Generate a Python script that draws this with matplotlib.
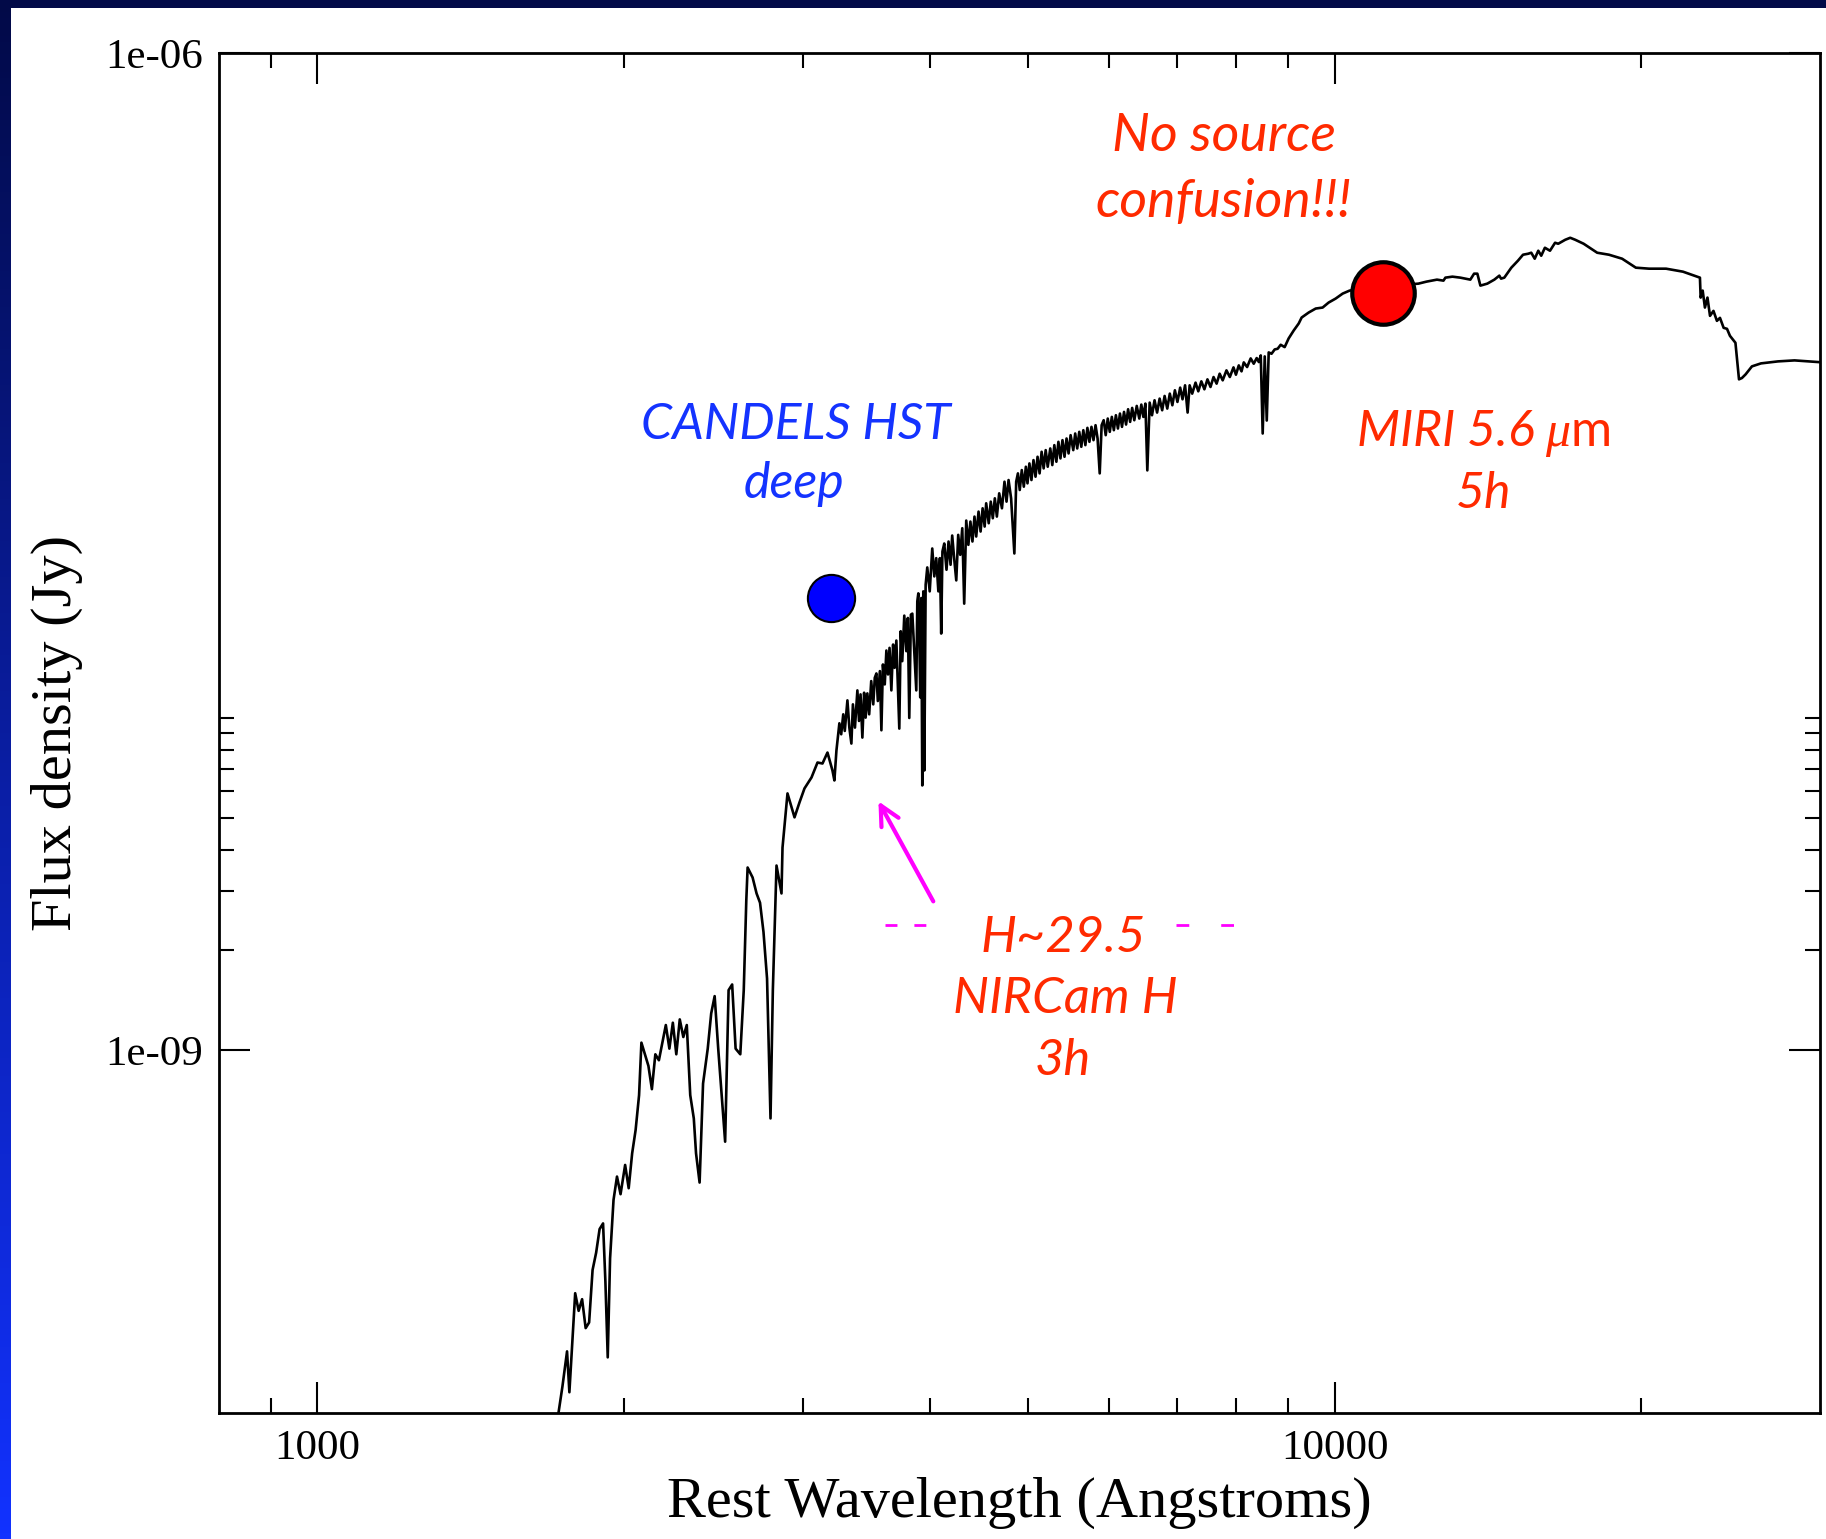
import numpy as np
import matplotlib
matplotlib.use("Agg")
import matplotlib.pyplot as plt
from matplotlib.patches import Rectangle
from matplotlib.colors import LinearSegmentedColormap
from matplotlib.ticker import FixedLocator, FixedFormatter, NullFormatter

plt.rcParams['font.family'] = ['Liberation Serif', 'DejaVu Serif']
plt.rcParams['mathtext.fontset'] = 'custom'
plt.rcParams['mathtext.rm'] = 'Lato'
plt.rcParams['mathtext.it'] = 'Liberation Serif:italic'

# ---------------- data ----------------
# model spectrum, in pieces: log10(rest wavelength / Angstrom), log10(flux / Jy)
uv_log_wave = [
    3.235, 3.241, 3.2455, 3.2478, 3.2535, 3.2569, 3.2603, 3.2638, 3.2672, 3.2706,
    3.2741, 3.2775, 3.2809, 3.2832, 3.2855, 3.2878, 3.2912, 3.2946, 3.2981, 3.3026,
    3.3061, 3.3095, 3.3129, 3.3163, 3.3186, 3.3221, 3.3255, 3.3289, 3.3323, 3.3358,
    3.3392, 3.3426, 3.3461, 3.3495, 3.3529, 3.3563, 3.3598, 3.3632, 3.3666, 3.3701,
    3.3723, 3.3758, 3.3792, 3.3838, 3.3872, 3.3906, 3.3941, 3.3975, 3.4009, 3.4043,
    3.4078, 3.4112, 3.4158, 3.4192,
]
uv_log_flux = [
    -10.135, -10.012, -9.907, -10.030, -9.732, -9.785, -9.750, -9.837, -9.820, -9.662,
    -9.610, -9.539, -9.522, -9.697, -9.925, -9.627, -9.451, -9.381, -9.434, -9.346,
    -9.416, -9.311, -9.241, -9.136, -8.978, -9.013, -9.048, -9.118, -9.013, -9.031,
    -8.978, -8.925, -8.996, -8.918, -9.013, -8.908, -8.961, -8.925, -9.136, -9.206,
    -9.311, -9.399, -9.101, -8.996, -8.890, -8.838, -8.996, -9.136, -9.276, -8.820,
    -8.803, -8.996, -9.013, -8.820,
]

balmer_log_wave = [
    3.4217, 3.4230, 3.4279, 3.4318, 3.4352, 3.4386, 3.4421, 3.4455, 3.4478, 3.4514,
    3.4563, 3.4573, 3.4622, 3.4691, 3.4740, 3.4789, 3.4858, 3.4917, 3.4966, 3.5015,
    3.5064, 3.5083, 3.5103,
]
balmer_log_flux = [
    -8.550, -8.451, -8.481, -8.529, -8.557, -8.645, -8.785, -9.206, -8.820, -8.445,
    -8.529, -8.391, -8.228, -8.300, -8.255, -8.213, -8.180, -8.135, -8.138, -8.105,
    -8.159, -8.189, -8.099,
]

blue_log_wave = [
    3.5132, 3.5150, 3.5170, 3.5185, 3.5201, 3.5211, 3.5230, 3.5250, 3.5265, 3.5285,
    3.5309, 3.5325, 3.5340, 3.5358, 3.5375, 3.5390, 3.5407, 3.5425, 3.5445, 3.5465,
    3.5480, 3.5496, 3.5510, 3.5530, 3.5545, 3.5560, 3.5578, 3.5594, 3.5610, 3.5625,
    3.5643, 3.5660, 3.5675, 3.5692, 3.5721, 3.5735, 3.5750, 3.5770, 3.5790, 3.5805,
    3.5819, 3.5835, 3.5849, 3.5865, 3.5888, 3.5898, 3.5908, 3.5918, 3.5927, 3.5937,
    3.5947, 3.5957, 3.5967, 3.5980,
]
blue_log_flux = [
    -8.017, -8.050, -7.990, -8.040, -7.985, -7.948, -8.030, -8.078, -7.960, -8.030,
    -7.918, -8.010, -7.930, -8.060, -7.925, -8.000, -7.927, -7.990, -7.890, -7.960,
    -7.880, -7.867, -7.950, -7.860, -8.038, -7.840, -7.900, -7.798, -7.870, -7.790,
    -7.918, -7.780, -7.850, -7.768, -8.033, -7.740, -7.830, -7.693, -7.800, -7.700,
    -8.001, -7.690, -7.687, -7.780, -7.918, -7.650, -7.626, -7.760, -7.939, -7.640,
    -8.204, -7.620, -8.159, -7.600,
]

red_log_wave = [
    3.5996, 3.6020, 3.6045, 3.6065, 3.6084, 3.6105, 3.6120, 3.6133, 3.6145, 3.6163,
    3.6185, 3.6205, 3.6225, 3.6241, 3.6260, 3.6281, 3.6300, 3.6320, 3.6340, 3.6359,
    3.6379, 3.6400, 3.6420, 3.6440, 3.6460, 3.6477, 3.6500, 3.6520, 3.6540, 3.6560,
    3.6575, 3.6600, 3.6620, 3.6640, 3.6660, 3.6680, 3.6703, 3.6730, 3.6755, 3.6775,
    3.6795, 3.6820, 3.6852, 3.6870, 3.6887, 3.6905, 3.6925, 3.6945, 3.6965, 3.6981,
    3.7000, 3.7020, 3.7040, 3.7060, 3.7080, 3.7100, 3.7120, 3.7140, 3.7160, 3.7180,
    3.7205, 3.7225, 3.7245, 3.7265, 3.7285, 3.7305, 3.7325, 3.7345, 3.7365, 3.7385,
    3.7405, 3.7431, 3.7450, 3.7470, 3.7490, 3.7510, 3.7530, 3.7550, 3.7570, 3.7590,
    3.7610, 3.7630, 3.7650, 3.7670, 3.7691, 3.7710, 3.7730, 3.7750, 3.7770, 3.7790,
    3.7810, 3.7830, 3.7850, 3.7870, 3.7890, 3.7910, 3.7930, 3.7950, 3.7970, 3.7990,
    3.8010, 3.8031, 3.8055, 3.8080, 3.8100, 3.8120, 3.8140, 3.8159, 3.8182, 3.8205,
    3.8230, 3.8255, 3.8280, 3.8305, 3.8329, 3.8355, 3.8380, 3.8405, 3.8430, 3.8455,
    3.8482, 3.8505, 3.8530, 3.8555, 3.8575, 3.8600, 3.8633, 3.8660, 3.8690, 3.8720,
    3.8750, 3.8780, 3.8810, 3.8840, 3.8870, 3.8900, 3.8937, 3.8970, 3.9006, 3.9030,
    3.9058, 3.9085, 3.9107, 3.9140, 3.9175, 3.9205, 3.9234, 3.9255, 3.9274, 3.9293,
    3.9313, 3.9333, 3.9352, 3.9380, 3.9411, 3.9440, 3.9470, 3.9509, 3.9548, 3.9598,
]
red_log_flux = [
    -7.548, -7.620, -7.491, -7.575, -7.520, -7.620, -7.520, -7.747, -7.500, -7.476,
    -7.555, -7.470, -7.540, -7.452, -7.520, -7.587, -7.450, -7.510, -7.430, -7.657,
    -7.407, -7.480, -7.410, -7.470, -7.395, -7.455, -7.380, -7.440, -7.370, -7.425,
    -7.355, -7.415, -7.350, -7.400, -7.340, -7.395, -7.325, -7.370, -7.290, -7.350,
    -7.285, -7.340, -7.506, -7.290, -7.265, -7.315, -7.255, -7.305, -7.245, -7.295,
    -7.235, -7.285, -7.225, -7.275, -7.215, -7.265, -7.200, -7.250, -7.195, -7.245,
    -7.190, -7.240, -7.180, -7.230, -7.170, -7.220, -7.165, -7.215, -7.160, -7.205,
    -7.150, -7.195, -7.145, -7.190, -7.140, -7.185, -7.135, -7.180, -7.128, -7.170,
    -7.125, -7.165, -7.120, -7.160, -7.265, -7.120, -7.105, -7.150, -7.100, -7.140,
    -7.095, -7.135, -7.090, -7.130, -7.085, -7.125, -7.080, -7.118, -7.072, -7.110,
    -7.068, -7.105, -7.062, -7.100, -7.058, -7.095, -7.055, -7.256, -7.052, -7.090,
    -7.045, -7.082, -7.040, -7.075, -7.032, -7.070, -7.025, -7.060, -7.015, -7.050,
    -7.007, -7.042, -7.000, -7.082, -7.000, -7.025, -6.992, -7.018, -6.988, -7.012,
    -6.982, -7.005, -6.975, -6.995, -6.965, -6.985, -6.955, -6.975, -6.946, -6.968,
    -6.940, -6.958, -6.931, -6.945, -6.919, -6.935, -6.918, -6.930, -6.910, -7.145,
    -6.913, -7.106, -6.901, -6.905, -6.892, -6.890, -6.878, -6.885, -6.859, -6.835,
]

nir_log_wave = [
    3.9647, 3.9676, 3.9745, 3.9814, 3.9882, 3.9941, 4.0010, 4.0079, 4.0147, 4.0481,
    4.0824, 4.0903, 4.1006, 4.1070, 4.1089, 4.1158, 4.1236, 4.1334, 4.1371, 4.1403,
    4.1433, 4.1501, 4.1570, 4.1619, 4.1636, 4.1668, 4.1737, 4.1802, 4.1852, 4.1903,
    4.1933, 4.1967, 4.2002, 4.2031, 4.2067, 4.2117, 4.2167, 4.2198, 4.2267, 4.2316,
    4.2365, 4.2448, 4.2581, 4.2697, 4.2826, 4.2961, 4.3091, 4.3258, 4.3424, 4.3591,
    4.3598, 4.3618, 4.3640, 4.3665, 4.3690, 4.3724, 4.3758, 4.3788, 4.3824, 4.3857,
    4.3886, 4.3940, 4.3955, 4.3975, 4.4004, 4.4040, 4.4102, 4.4191, 4.4358, 4.4521,
    4.4800,
]
nir_log_flux = [
    -6.814, -6.796, -6.781, -6.769, -6.766, -6.751, -6.739, -6.724, -6.715, -6.703,
    -6.694, -6.688, -6.682, -6.685, -6.676, -6.673, -6.676, -6.682, -6.664, -6.664,
    -6.700, -6.694, -6.682, -6.670, -6.679, -6.676, -6.646, -6.625, -6.607, -6.604,
    -6.601, -6.619, -6.595, -6.610, -6.586, -6.595, -6.571, -6.574, -6.562, -6.556,
    -6.562, -6.574, -6.601, -6.607, -6.619, -6.646, -6.649, -6.649, -6.658, -6.676,
    -6.736, -6.715, -6.766, -6.736, -6.791, -6.776, -6.806, -6.797, -6.827, -6.830,
    -6.851, -6.872, -6.918, -6.982, -6.978, -6.967, -6.943, -6.934, -6.928, -6.925,
    -6.931,
]

# photometric points (Angstrom, Jy)
hst_wave = [3200.0]
hst_flux = [2.29e-8]
miri_wave = [11150.0]
miri_flux = [1.89e-7]

# NIRCam H ~ 29.5 limit (dashed magenta), two visible pieces
limit_flux = 2.37e-9
limit_wave_left = [3614.0, 3995.0]
limit_wave_right = [6977.0, 7990.0]

# arrow (Angstrom, Jy)
arrow_tip = (3561.0, 5.6e-9)
arrow_tail = (4032.0, 2.8e-9)

# axes ticks
x_major = [1000, 10000]
x_major_labels = ['1000', '10000']
x_minor = [900, 2000, 3000, 4000, 5000, 6000, 7000, 8000, 9000, 20000]
y_major = [1e-9, 1e-6]
y_major_labels = ['1e-09', '1e-06']
y_minor = [2e-9, 3e-9, 4e-9, 5e-9, 6e-9, 7e-9, 8e-9, 9e-9, 1e-8]
x_limits = (800, 30000)
y_limits = (8.1e-11, 1e-6)

# ---------------- figure ----------------
W, H = 1826, 1539
fig = plt.figure(figsize=(W / 100, H / 100), dpi=100)

# gradient slide background
bg = fig.add_axes([0, 0, 1, 1], zorder=-5)
cmap = LinearSegmentedColormap.from_list('slide', ['#1232ff', '#020a48'])
grad = np.linspace(0, 1, 512).reshape(-1, 1)
bg.imshow(grad, cmap=cmap, aspect='auto', extent=[0, 1, 0, 1], origin='lower')
bg.add_patch(Rectangle((11 / W, 0), 1, 1 - 8 / H, transform=bg.transAxes,
                       facecolor='white', edgecolor='none'))
bg.set_xlim(0, 1)
bg.set_ylim(0, 1)
bg.axis('off')

ax_l, ax_r, ax_t, ax_b = 218.7, 1820.0, 53.0, 1412.7
ax = fig.add_axes([ax_l / W, 1 - ax_b / H, (ax_r - ax_l) / W, (ax_b - ax_t) / H])
ax.set_facecolor('white')
ax.set_xscale('log')
ax.set_yscale('log')

log_wave = np.concatenate([uv_log_wave, balmer_log_wave, blue_log_wave,
                           red_log_wave, nir_log_wave])
log_flux = np.concatenate([uv_log_flux, balmer_log_flux, blue_log_flux,
                           red_log_flux, nir_log_flux])
ax.plot(10 ** log_wave, 10 ** log_flux, color='black', lw=1.9, zorder=2)

ax.plot(limit_wave_left, [limit_flux] * 2, color='#ff00ff', lw=2,
        dashes=(4.3, 6.1), zorder=2)
ax.plot(limit_wave_right, [limit_flux] * 2, color='#ff00ff', lw=2,
        dashes=(4.6, 11.5), zorder=2)

ax.annotate('', xy=arrow_tip, xytext=arrow_tail,
            arrowprops=dict(arrowstyle='->,head_length=0.7,head_width=0.35',
                            color='#ff00ff', lw=3, shrinkA=0, shrinkB=0,
                            mutation_scale=20), zorder=3)

ax.plot(hst_wave, hst_flux, 'o', ms=34, mfc='#0000ff', mec='black', mew=1.5,
        zorder=4)
ax.plot(miri_wave, miri_flux, 'o', ms=45, mfc='#ff0000', mec='black', mew=3,
        zorder=4)

ax.set_xlim(*x_limits)
ax.set_ylim(*y_limits)

ax.xaxis.set_major_locator(FixedLocator(x_major))
ax.xaxis.set_major_formatter(FixedFormatter(x_major_labels))
ax.xaxis.set_minor_locator(FixedLocator(x_minor))
ax.xaxis.set_minor_formatter(NullFormatter())
ax.yaxis.set_major_locator(FixedLocator(y_major))
ax.yaxis.set_major_formatter(FixedFormatter(y_major_labels))
ax.yaxis.set_minor_locator(FixedLocator(y_minor))
ax.yaxis.set_minor_formatter(NullFormatter())

ax.tick_params(which='major', direction='in', length=22.3, width=1.5,
               top=True, right=True, labelsize=31, colors='black')
ax.tick_params(which='minor', direction='in', length=10.8, width=1.5,
               top=True, right=True)
ax.tick_params(axis='x', which='major', pad=12)
ax.tick_params(axis='y', which='major', pad=11.5)
for s in ax.spines.values():
    s.set_linewidth(2)

ax.set_xlabel('Rest Wavelength (Angstroms)', fontsize=42)
ax.set_ylabel('Flux density (Jy)', fontsize=42)
ax.xaxis.set_label_coords(0.5, -0.047)
ax.yaxis.set_label_coords(-0.085, 0.5)

red = '#ff2a00'
blue = '#1433ff'
tkw = dict(transform=ax.transAxes, ha='center', va='baseline',
           family='Lato', style='italic', zorder=5)
ax.text(0.6278, 0.9276, 'No source', color=red, fontsize=38.5, **tkw)
ax.text(0.6278, 0.8797, 'confusion!!!', color=red, fontsize=38.5, **tkw)
ax.text(0.3605, 0.7159, 'CANDELS HST', color=blue, fontsize=36, **tkw)
ax.text(0.3593, 0.6727, 'deep', color=blue, fontsize=36, **tkw)
ax.text(0.7895, 0.7110, r'MIRI 5.6 $\mu\mathrm{m}$', color=red, fontsize=36, **tkw)
ax.text(0.7902, 0.6654, '5h', color=red, fontsize=36, **tkw)
ax.text(0.5273, 0.3388, 'H~29.5', color=red, fontsize=36.5, **tkw)
ax.text(0.5285, 0.2940, 'NIRCam H', color=red, fontsize=36.5, **tkw)
ax.text(0.5273, 0.2484, '3h', color=red, fontsize=36.5, **tkw)

fig.savefig('out.png', dpi=100)
